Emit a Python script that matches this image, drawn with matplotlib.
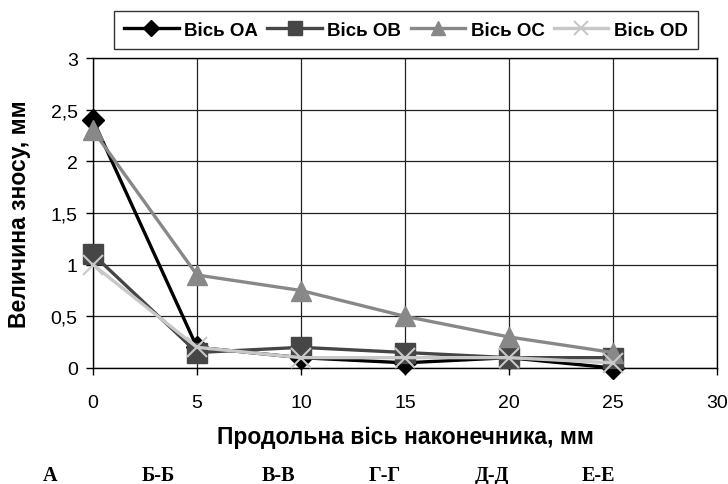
import matplotlib
matplotlib.use("Agg")
import matplotlib.pyplot as plt

plt.rcParams['font.family'] = ['Liberation Sans', 'DejaVu Sans']

# відстань вздовж осі наконечника, мм
x_mm = [0, 5, 10, 15, 20, 25]

wear_oa = [2.4, 0.2, 0.1, 0.05, 0.1, 0.0]
wear_ob = [1.1, 0.15, 0.2, 0.15, 0.1, 0.1]
wear_oc = [2.3, 0.9, 0.75, 0.5, 0.3, 0.15]
wear_od = [1.0, 0.2, 0.1, 0.1, 0.1, 0.05]

series_names = ['Вісь OA', 'Вісь OB', 'Вісь OC', 'Вісь OD']
section_labels = ['А', 'Б-Б', 'В-В', 'Г-Г', 'Д-Д', 'Е-Е']

x_ticks = [0, 5, 10, 15, 20, 25, 30]
y_ticks = [0, 0.5, 1, 1.5, 2, 2.5, 3]
y_tick_labels = ['0', '0,5', '1', '1,5', '2', '2,5', '3']

W, H = 728, 485
fig = plt.figure(figsize=(W / 100, H / 100), dpi=100)
# область графіка: x 93..717 px, y 59..369 px
ax = fig.add_axes([93 / W, 1 - 369 / H, 624 / W, 310 / H])

styles = [
    dict(color='black', marker='D', ms=11),
    dict(color='#464646', marker='s', ms=14),
    dict(color='#888888', marker='^', ms=15),
    dict(color='#c8c8c8', marker='x', ms=15, mew=1.5),
]
all_series = [wear_oa, wear_ob, wear_oc, wear_od]

for name, vals, st in zip(series_names, all_series, styles):
    ax.plot(x_mm, vals, lw=2.4, label=name, clip_on=False, zorder=3, **st)

ax.set_xlim(0, 30)
ax.set_ylim(0, 3)
ax.set_xticks(x_ticks)
ax.set_yticks(y_ticks)
ax.set_yticklabels(y_tick_labels)
ax.tick_params(axis='both', labelsize=14, length=5, width=1, color='black', direction='out')
ax.tick_params(axis='x', pad=14)
ax.tick_params(axis='y', pad=6)
ax.grid(True, color='#222222', lw=0.9)
ax.set_axisbelow(True)
for sp in ax.spines.values():
    sp.set_color('black')
    sp.set_linewidth(1)

ax.set_ylabel('Величина зносу, мм', fontsize=16.5, fontweight='bold')
ax.set_xlabel('Продольна вісь наконечника, мм', fontsize=16.5, fontweight='bold')
ax.xaxis.set_label_coords(0.5, (369 - 438) / 310)
ax.xaxis.label.set_va('center')
ax.yaxis.set_label_coords((20 - 93) / 624, 0.5)
ax.yaxis.label.set_va('center')

leg = fig.legend(loc='center', bbox_to_anchor=(406 / W, 1 - 31 / H), ncol=4, frameon=True,
                 fancybox=False, edgecolor='black', markerscale=0.7,
                 handlelength=2.9, handletextpad=0.3, columnspacing=0.5,
                 borderpad=0.55, borderaxespad=0, prop={'weight': 'bold', 'size': 13.5})
leg.get_frame().set_linewidth(1)

# підписи перерізів під графіком (пікселі)
section_px = [50, 158, 278, 385, 492, 598]
for lbl, px in zip(section_labels, section_px):
    fig.text(px / W, 1 - 476 / H, lbl, ha='center', va='center',
             family='Liberation Serif', fontweight='bold', fontsize=14.5)

fig.savefig('out.png', dpi=100)
